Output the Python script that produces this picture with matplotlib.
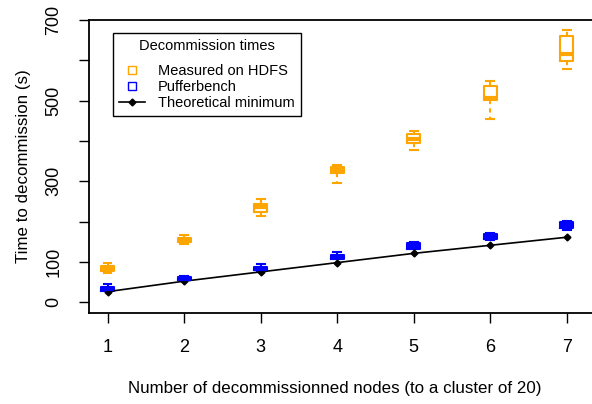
import matplotlib
matplotlib.use('Agg')
import matplotlib.pyplot as plt
from matplotlib.lines import Line2D

plt.rcParams['font.family'] = ['Liberation Sans', 'DejaVu Sans']

nodes = [1, 2, 3, 4, 5, 6, 7]

# Measured on HDFS (orange boxes)
hdfs_whislo = [72, 144, 213, 295, 377, 455, 578]
hdfs_q1 = [77, 149, 223, 320, 395, 501, 598]
hdfs_med = [82, 154, 236, 328, 405, 507, 616]
hdfs_q3 = [89, 159, 243, 335, 417, 537, 660]
hdfs_whishi = [97, 166, 256, 340, 424, 549, 675]

# Pufferbench (blue boxes)
puff_whislo = [27, 54, 78, 106, 131, 155, 179]
puff_q1 = [28, 55, 79, 107, 132, 156, 185]
puff_med = [32, 58, 83, 112, 139, 163, 192]
puff_q3 = [37, 62, 87, 117, 146, 170, 198]
puff_whishi = [44, 66, 94, 124, 148, 172, 201]

# Theoretical minimum
theory = [26, 52, 75, 98, 121, 141, 161]

yticks = [0, 100, 200, 300, 400, 500, 600, 700]
ytick_labels = ['0', '100', '', '300', '', '500', '', '700']


def make_stats(lo, q1, med, q3, hi):
    return [dict(whislo=a, q1=b, med=c, q3=d, whishi=e, fliers=[])
            for a, b, c, d, e in zip(lo, q1, med, q3, hi)]


fig = plt.figure(figsize=(5.92, 4.04), dpi=100)
ax = fig.add_axes([89 / 592, 1 - 313 / 404, (605 - 89) / 592, (313 - 20) / 404])


def draw_boxes(stats, color):
    ax.bxp(stats, positions=nodes, widths=0.17, showfliers=False,
           boxprops=dict(color=color, linewidth=1.5),
           medianprops=dict(color=color, linewidth=3),
           whiskerprops=dict(color=color, linewidth=1.5, linestyle=(0, (2, 2))),
           capprops=dict(color=color, linewidth=1.5),
           capwidths=0.1, manage_ticks=False)


draw_boxes(make_stats(hdfs_whislo, hdfs_q1, hdfs_med, hdfs_q3, hdfs_whishi), 'orange')
draw_boxes(make_stats(puff_whislo, puff_q1, puff_med, puff_q3, puff_whishi), 'blue')

ax.plot(nodes, theory, color='black', linewidth=1.2, marker='D', markersize=3.5)

ax.set_xlim(0.756, 7.5)
ax.set_ylim(-27, 700)
ax.set_xticks(nodes)
ax.set_xticklabels([str(n) for n in nodes])
ax.set_yticks(yticks)
ax.set_yticklabels(ytick_labels, rotation=90, va='center')
ax.tick_params(length=7, width=1, labelsize=13)
ax.tick_params(axis='x', pad=11.5)
ax.tick_params(axis='y', pad=12)
ax.spines['right'].set_visible(False)
for s in ['top', 'left', 'bottom']:
    ax.spines[s].set_linewidth(1.3)

fig.text(335 / 592, 1 - 388 / 404, 'Number of decommissionned nodes (to a cluster of 20)',
         ha='center', va='center', fontsize=12.2)
fig.text(24 / 592, 1 - 166 / 404, 'Time to decommission (s)',
         ha='center', va='center', rotation=90, fontsize=12.2)

handles = [
    Line2D([], [], linestyle='none', marker='s', markersize=6,
           markerfacecolor='none', markeredgecolor='orange'),
    Line2D([], [], linestyle='none', marker='s', markersize=6,
           markerfacecolor='none', markeredgecolor='blue'),
    Line2D([], [], color='black', linewidth=1.2, marker='D', markersize=3.5),
]
leg = fig.legend(handles, ['Measured on HDFS', 'Pufferbench', 'Theoretical minimum'],
                 title='Decommission times', loc='upper left',
                 bbox_to_anchor=(113 / 592, 1 - 33 / 404), fontsize=10.5,
                 title_fontsize=10.5, fancybox=False, edgecolor='black',
                 framealpha=1, borderpad=0.4, labelspacing=0.15,
                 handlelength=1.8, handletextpad=0.9, borderaxespad=0)
leg.get_frame().set_linewidth(1)
# extra room between the legend title and the entries
leg._legend_box.sep = 8

fig.savefig('out.png', dpi=100)
